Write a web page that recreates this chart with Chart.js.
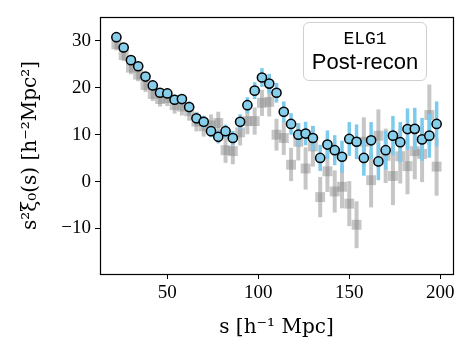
<!DOCTYPE html>
<html>
<head>
<meta charset="utf-8">
<script src="https://cdn.jsdelivr.net/npm/chart.js@4.4.0/dist/chart.umd.min.js"></script>
<style>
  html, body { margin: 0; padding: 0; background: #fff; }
  #wrap { position: relative; width: 473px; height: 355px; }
  #box {
    position: absolute; left: 303px; top: 22px; width: 122px; height: 57px;
    border: 1px solid #cfcfcf; border-radius: 6px; background: rgba(255,255,255,0.8);
    text-align: center; color: #000;
  }
  #box .tag { font-family: 'Liberation Mono', monospace; font-size: 18px; line-height: 20px; margin-top: 6px; }
  #box .name { font-family: 'Liberation Sans', sans-serif; font-size: 22px; line-height: 24px; margin-top: 1px; }
</style>
</head>
<body>
<div id="wrap">
  <canvas id="chart" width="473" height="355"></canvas>
  <div id="box"><div class="tag">ELG1</div><div class="name">Post-recon</div></div>
</div>
<script>
// separation bins, h^-1 Mpc
const sBins = [22, 26, 30, 34, 38, 42, 46, 50, 54, 58, 62, 66, 70, 74, 78, 82, 86, 90, 94, 98,
  102, 106, 110, 114, 118, 122, 126, 130, 134, 138, 142, 146, 150, 154, 158, 162, 166, 170,
  174, 178, 182, 186, 190, 194, 198];

// post-recon s^2 xi_0 (blue circles) and errors
const xiPost = [30.8, 28.6, 25.9, 24.6, 22.4, 20.5, 18.95, 18.8, 17.45, 17.6, 15.9, 13.5, 12.75,
  10.75, 9.55, 10.75, 9.3, 12.75, 16.3, 19.4, 22.2, 20.9, 18.95, 14.9, 12.3, 10.0, 10.25, 9.3,
  5.05, 7.9, 6.7, 5.3, 9.1, 8.5, 5.05, 8.8, 4.3, 6.7, 9.8, 8.4, 11.2, 11.25, 9.0, 9.8, 12.3];
const errPost = [0.8, 0.8, 0.8, 0.9, 0.9, 0.9, 1.0, 1.0, 1.1, 1.1, 1.2, 1.2, 1.3, 1.3, 1.4, 1.4,
  1.5, 1.6, 1.7, 1.8, 2.0, 2.1, 2.1, 2.2, 2.3, 2.4, 2.5, 2.6, 2.8, 3.0, 3.2, 3.4, 3.6, 3.7, 3.8,
  3.9, 4.0, 4.1, 4.2, 4.3, 4.4, 4.5, 4.6, 4.7, 4.8];

// pre-recon s^2 xi_0 (grey squares) and errors
const xiPre = [29.3, 27.0, 24.3, 22.8, 20.6, 18.7, 17.6, 17.8, 16.3, 16.0, 15.0, 12.8, 11.8,
  12.0, 12.5, 6.7, 6.5, 10.5, 12.9, 12.9, 16.8, 17.0, 10.0, 9.3, 3.6, 8.5, 2.8, 7.5, -3.3, 2.2,
  -2.1, -1.1, -4.7, -9.2, 8.5, 0.3, 9.8, 5.5, 1.2, 5.4, 3.3, 6.5, 5.9, 14.2, 3.2];
const errPre = [1.3, 1.3, 1.4, 1.4, 1.5, 1.5, 1.6, 1.7, 1.8, 1.9, 2.0, 2.1, 2.2, 2.3, 2.4, 2.7,
  2.8, 2.8, 2.8, 2.9, 2.8, 3.1, 3.4, 3.6, 3.6, 4.0, 4.5, 4.3, 4.3, 4.4, 4.5, 4.6, 4.8, 5.0, 5.2,
  5.8, 5.6, 5.8, 6.2, 5.8, 6.0, 6.0, 6.0, 6.5, 6.2];

const xTicks = [50, 100, 150, 200];
const yTicks = [-10, 0, 10, 20, 30];

const SERIF = "'Liberation Serif', serif";
const TITLE_SERIF = "'DejaVu Serif', serif";

function errorBars(values, errors) {
  return sBins.map((s, i) => ({ x: s, y: [values[i] - errors[i], values[i] + errors[i]] }));
}
function points(values) {
  return sBins.map((s, i) => ({ x: s, y: values[i] }));
}

// full black frame round the plot area
const framePlugin = {
  id: 'frame',
  afterDraw(chart) {
    const { ctx, chartArea: a } = chart;
    ctx.save();
    ctx.strokeStyle = '#000';
    ctx.lineWidth = 1.2;
    ctx.strokeRect(Math.round(a.left) + 0.5, Math.round(a.top) + 0.5,
      Math.round(a.right - a.left), Math.round(a.bottom - a.top));
    ctx.restore();
  }
};

new Chart(document.getElementById('chart'), {
  type: 'scatter',
  data: {
    datasets: [
      {
        type: 'bar',
        data: errorBars(xiPre, errPre),
        backgroundColor: 'rgba(128,128,128,0.45)',
        borderWidth: 0,
        grouped: false,
        maxBarThickness: 4,
        order: 4
      },
      {
        data: points(xiPre),
        pointStyle: 'rect',
        radius: 7,
        backgroundColor: 'rgba(128,128,128,0.45)',
        borderWidth: 0,
        order: 3
      },
      {
        type: 'bar',
        data: errorBars(xiPost, errPost),
        backgroundColor: '#7ccaec',
        borderWidth: 0,
        grouped: false,
        maxBarThickness: 3.5,
        order: 2
      },
      {
        data: points(xiPost),
        pointStyle: 'circle',
        radius: 4.6,
        backgroundColor: '#87ceeb',
        borderColor: '#000',
        borderWidth: 1.5,
        order: 1
      }
    ]
  },
  options: {
    responsive: false,
    animation: false,
    devicePixelRatio: 1,
    layout: { padding: { top: 17, right: 20, left: 0, bottom: 0 } },
    plugins: { legend: { display: false }, tooltip: { enabled: false } },
    scales: {
      x: {
        type: 'linear',
        min: 13,
        max: 207,
        offset: false,
        afterFit(scale) { scale.height = 81; },
        afterBuildTicks(scale) { scale.ticks = xTicks.map(v => ({ value: v })); },
        grid: { drawOnChartArea: false, offset: false, color: '#000', tickLength: 5, lineWidth: 1 },
        border: { display: true, color: '#000', width: 1 },
        ticks: { color: '#000', font: { family: SERIF, size: 19 }, padding: 3, maxRotation: 0 },
        title: {
          display: true,
          text: 's [h\u207B\u00B9 Mpc]',
          color: '#000',
          font: { family: TITLE_SERIF, size: 20 },
          padding: { top: 0, bottom: 15 }
        }
      },
      y: {
        type: 'linear',
        min: -19.7,
        max: 35.1,
        afterFit(scale) { scale.width = 100; },
        afterBuildTicks(scale) { scale.ticks = yTicks.map(v => ({ value: v })); },
        grid: { drawOnChartArea: false, color: '#000', tickLength: 5, lineWidth: 1 },
        border: { display: true, color: '#000', width: 1 },
        ticks: {
          color: '#000',
          font: { family: SERIF, size: 19 },
          padding: 4,
          callback: v => String(v).replace('-', '\u2212')
        },
        title: {
          display: true,
          text: 's\u00B2\u03BE\u2080(s) [h\u207B\u00B2Mpc\u00B2]',
          color: '#000',
          font: { family: TITLE_SERIF, size: 20 },
          padding: { top: 19, bottom: 0 }
        }
      }
    }
  },
  plugins: [framePlugin]
});
</script>
</body>
</html>
